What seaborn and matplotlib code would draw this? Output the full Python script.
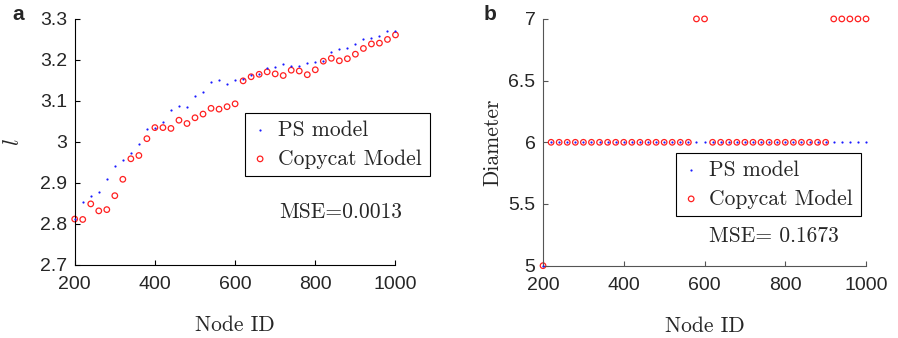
import numpy as np
import pandas as pd
import matplotlib
matplotlib.use("Agg")
import matplotlib.pyplot as plt
import seaborn as sns
from matplotlib.ticker import FuncFormatter

# ---- data -------------------------------------------------------------
node_id = list(range(200, 1001, 20))

avg_path_ps = [2.812, 2.853, 2.868, 2.878, 2.910, 2.941, 2.956, 2.974, 2.995, 3.032,
               3.035, 3.049, 3.077, 3.087, 3.085, 3.113, 3.123, 3.146, 3.150, 3.141,
               3.150, 3.154, 3.163, 3.165, 3.180, 3.183, 3.189, 3.186, 3.186, 3.193,
               3.195, 3.198, 3.220, 3.226, 3.230, 3.238, 3.250, 3.254, 3.259, 3.271,
               3.271]
avg_path_copycat = [2.812, 2.811, 2.849, 2.832, 2.835, 2.869, 2.909, 2.959, 2.967, 3.008,
                    3.035, 3.035, 3.033, 3.053, 3.045, 3.059, 3.068, 3.082, 3.080, 3.086,
                    3.093, 3.149, 3.159, 3.165, 3.171, 3.166, 3.162, 3.175, 3.173, 3.164,
                    3.176, 3.197, 3.204, 3.198, 3.203, 3.214, 3.228, 3.239, 3.241, 3.250,
                    3.261]

diam_ps = [5] + [6] * 40
diam_copycat = [5] + [6] * 18 + [7, 7] + [6] * 15 + [7] * 5

mse_a = "MSE=0.0013"
mse_b = "MSE= 0.1673"

df_a = pd.DataFrame({"node": node_id, "ps": avg_path_ps, "copycat": avg_path_copycat})
df_b = pd.DataFrame({"node": node_id, "ps": diam_ps, "copycat": diam_copycat})

# ---- style ------------------------------------------------------------
sns.set_style("ticks")
plt.rcParams["font.family"] = ["Liberation Sans", "DejaVu Sans"]
plt.rcParams["mathtext.fontset"] = "cm"
SERIF = "cmr10"
TEXT_SIZE = 15.5

fig = plt.figure(figsize=(8.98, 3.38), dpi=100)
ax_a = fig.add_axes([0.0832, 0.216, 0.3572, 0.728])
ax_b = fig.add_axes([0.6047, 0.214, 0.3597, 0.730])


def draw_panel(ax, df, spine_color):
    sns.scatterplot(data=df, x="node", y="ps", ax=ax, marker=".", s=10,
                    color="#1a1aff", linewidth=0, label="PS model", clip_on=False, zorder=3)
    sns.scatterplot(data=df, x="node", y="copycat", ax=ax, marker="o", s=16,
                    linewidth=0.9, label="Copycat Model", clip_on=False, zorder=2)
    circles = ax.collections[-1]
    circles.set_facecolor("none")
    circles.set_edgecolor("#ff2020")
    for side in ("top", "right"):
        ax.spines[side].set_visible(False)
    for side in ("left", "bottom"):
        ax.spines[side].set_color(spine_color)
        ax.spines[side].set_linewidth(0.8)
    ax.tick_params(direction="in", length=3.5, width=0.8, color=spine_color, labelsize=14)
    ax.tick_params(axis="x", pad=8)
    ax.tick_params(axis="y", pad=5.5)
    ax.set_xlim(200, 1000)
    ax.set_xticks([200, 400, 600, 800, 1000])
    ax.set_xlabel("Node ID", fontfamily=SERIF, fontsize=TEXT_SIZE)
    ax.xaxis.set_label_coords(0.5, -0.205)
    ax.yaxis.set_major_formatter(FuncFormatter(lambda v, p: f"{v:g}"))


draw_panel(ax_a, df_a, "black")
ax_a.set_ylim(2.7, 3.3)
ax_a.set_yticks(np.round(np.arange(2.7, 3.31, 0.1), 1))
ax_a.set_ylabel(r"$l$", fontsize=16)
ax_a.yaxis.set_label_coords(-0.158, 0.5)

draw_panel(ax_b, df_b, "#555555")
ax_b.set_ylim(5, 7)
ax_b.set_yticks([5, 5.5, 6, 6.5, 7])
ax_b.set_ylabel("Diameter", fontfamily=SERIF, fontsize=TEXT_SIZE)
ax_b.yaxis.set_label_coords(-0.125, 0.5)

legend_kw = dict(prop={"family": SERIF, "size": TEXT_SIZE}, frameon=True, fancybox=False,
                 edgecolor="black", framealpha=1, handlelength=0.7, handletextpad=0.5,
                 borderpad=0.35, labelspacing=0.42, borderaxespad=0, loc="upper left")
leg_a = ax_a.legend(bbox_to_anchor=(0.531, 0.618), **legend_kw)
leg_b = ax_b.legend(bbox_to_anchor=(0.412, 0.457), **legend_kw)
for leg in (leg_a, leg_b):
    leg.get_frame().set_linewidth(0.8)

ax_a.text(0.637, 0.215, mse_a, transform=ax_a.transAxes, fontfamily=SERIF,
          fontsize=TEXT_SIZE, va="center", ha="left")
ax_b.text(0.514, 0.118, mse_b, transform=ax_b.transAxes, fontfamily=SERIF,
          fontsize=TEXT_SIZE, va="center", ha="left")

fig.text(12 / 898, 1 - 15 / 338, "a", fontsize=15, fontweight="bold", ha="left", va="center")
fig.text(484 / 898, 1 - 15 / 338, "b", fontsize=15, fontweight="bold", ha="left", va="center")

fig.savefig("out.png", dpi=100)
